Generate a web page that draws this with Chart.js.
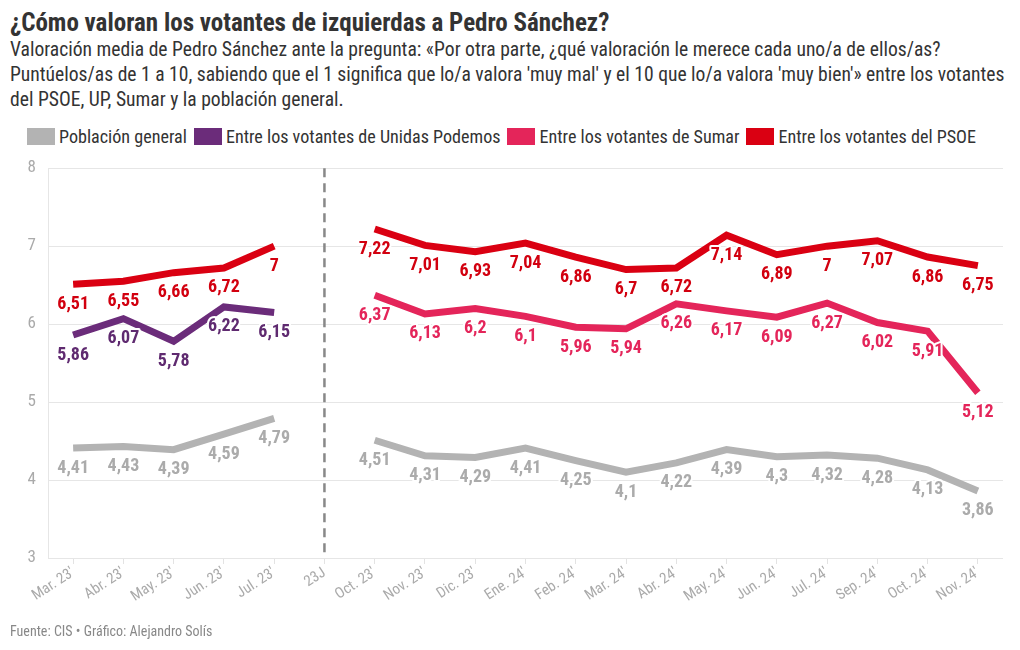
<!DOCTYPE html>
<html>
<head>
<meta charset="utf-8">
<script src="https://cdn.jsdelivr.net/npm/chart.js@4.4.1/dist/chart.umd.min.js"></script>
<style>
  body { margin: 0; background: #fff; font-family: "Roboto", sans-serif; }
  #wrap { position: relative; width: 1020px; height: 650px; overflow: hidden; font-stretch: condensed; }
  h1 { position: absolute; left: 10px; top: 8px; margin: 0; font-size: 25px; font-weight: bold; color: #333; }
  #sub { position: absolute; left: 10px; top: 37px; width: 1008px; font-size: 19.6px; line-height: 25px; color: #333; }
  #legend { position: absolute; left: 27px; top: 126px; display: flex; font-size: 18.1px; color: #333; }
  #legend span.item { display: flex; align-items: center; margin-right: 7px; }
  #legend span.box { width: 28px; height: 17px; margin-right: 4px; display: inline-block; }
  #foot { position: absolute; left: 10px; top: 623px; font-size: 14px; color: #888; }
  #holder { position: absolute; left: 0; top: 146px; width: 1020px; height: 504px; }
</style>
</head>
<body>
<div id="wrap">
  <h1>¿Cómo valoran los votantes de izquierdas a Pedro Sánchez?</h1>
  <div id="sub">Valoración media de Pedro Sánchez ante la pregunta: «Por otra parte, ¿qué valoración le merece cada uno/a de ellos/as? Puntúelos/as de 1 a 10, sabiendo que el 1 significa que lo/a valora 'muy mal' y el 10 que lo/a valora 'muy bien'» entre los votantes del PSOE, UP, Sumar y la población general.</div>
  <div id="legend"></div>
  <div id="holder"><canvas id="chart"></canvas></div>
  <div id="foot">Fuente: CIS • Gráfico: Alejandro Solís</div>
</div>
<script>
// categorías (23J = elecciones, sin datos)
const labels = ["Mar. 23'", "Abr. 23'", "May. 23'", "Jun. 23'", "Jul. 23'", "23J",
  "Oct. 23'", "Nov. 23'", "Dic. 23'", "Ene. 24'", "Feb. 24'", "Mar. 24'", "Abr. 24'",
  "May. 24'", "Jun. 24'", "Jul. 24'", "Sep. 24'", "Oct. 24'", "Nov. 24'"];

const poblacion = [4.41, 4.43, 4.39, 4.59, 4.79, null,
  4.51, 4.31, 4.29, 4.41, 4.25, 4.1, 4.22, 4.39, 4.3, 4.32, 4.28, 4.13, 3.86];
const podemos = [5.86, 6.07, 5.78, 6.22, 6.15, null,
  null, null, null, null, null, null, null, null, null, null, null, null, null];
const sumar = [null, null, null, null, null, null,
  6.37, 6.13, 6.2, 6.1, 5.96, 5.94, 6.26, 6.17, 6.09, 6.27, 6.02, 5.91, 5.12];
const psoe = [6.51, 6.55, 6.66, 6.72, 7, null,
  7.22, 7.01, 6.93, 7.04, 6.86, 6.7, 6.72, 7.14, 6.89, 7, 7.07, 6.86, 6.75];

const yTicks = [3, 4, 5, 6, 7, 8];

const series = [
  { name: 'Población general', data: poblacion, color: '#b3b3b3', text: '#ababab' },
  { name: 'Entre los votantes de Unidas Podemos', data: podemos, color: '#6b2c7a', text: '#5f2a70' },
  { name: 'Entre los votantes de Sumar', data: sumar, color: '#e4255a', text: '#e4255a' },
  { name: 'Entre los votantes del PSOE', data: psoe, color: '#da0012', text: '#d2000f' }
];

const FONT = 'Roboto, sans-serif';

// leyenda
const legendEl = document.getElementById('legend');
series.forEach(s => {
  const it = document.createElement('span');
  it.className = 'item';
  it.innerHTML = '<span class="box" style="background:' + s.color + '"></span>' + s.name;
  legendEl.appendChild(it);
});

// línea discontinua en 23J
const marcaElecciones = {
  id: 'marcaElecciones',
  beforeDatasetsDraw(chart) {
    const x = chart.scales.x.getPixelForValue(5);
    const area = chart.chartArea;
    const ctx = chart.ctx;
    ctx.save();
    ctx.strokeStyle = '#888';
    ctx.lineWidth = 2.5;
    ctx.setLineDash([9, 6]);
    ctx.beginPath();
    ctx.moveTo(x, area.top);
    ctx.lineTo(x, area.bottom);
    ctx.stroke();
    ctx.restore();
  }
};

// etiquetas de valor bajo cada punto
const etiquetas = {
  id: 'etiquetas',
  afterDatasetsDraw(chart) {
    const ctx = chart.ctx;
    ctx.save();
    ctx.font = 'bold 18px ' + FONT;
    ctx.fontStretch = 'condensed';
    ctx.textAlign = 'center';
    ctx.textBaseline = 'middle';
    ctx.lineJoin = 'round';
    chart.data.datasets.forEach((ds, i) => {
      const meta = chart.getDatasetMeta(i);
      meta.data.forEach((pt, j) => {
        const v = ds.data[j];
        if (v === null) return;
        const txt = String(v).replace('.', ',');
        ctx.strokeStyle = '#fff';
        ctx.lineWidth = 4;
        ctx.strokeText(txt, pt.x, pt.y + 20);
        ctx.fillStyle = series[i].text;
        ctx.fillText(txt, pt.x, pt.y + 20);
      });
    });
    ctx.restore();
  }
};

new Chart(document.getElementById('chart'), {
  type: 'line',
  data: {
    labels: labels,
    datasets: series.map(s => ({
      label: s.name,
      data: s.data,
      borderColor: s.color,
      backgroundColor: s.color,
      borderWidth: 7,
      pointRadius: 0,
      spanGaps: false,
      tension: 0
    }))
  },
  options: {
    responsive: true,
    maintainAspectRatio: false,
    animation: false,
    layout: { padding: { left: 0, right: 17, top: 9, bottom: 0 } },
    plugins: { legend: { display: false }, tooltip: { enabled: false } },
    scales: {
      x: {
        offset: true,
        afterFit(scale) { scale.height = 92; },
        grid: { drawOnChartArea: false, drawTicks: true, tickLength: 6, color: '#e3e3e3' },
        border: { display: false },
        ticks: { color: '#aaa', font: { family: FONT, size: 15, weight: 'condensed' }, minRotation: 33, maxRotation: 33, padding: 0, autoSkip: false }
      },
      y: {
        min: 3, max: 8,
        afterFit(scale) { scale.width = 48; },
        afterBuildTicks(scale) { scale.ticks = yTicks.map(v => ({ value: v })); },
        grid: { color: '#e6e6e6', drawTicks: false },
        border: { display: true, color: '#e6e6e6' },
        ticks: { color: '#aaa', font: { family: FONT, size: 17, weight: 'condensed' }, padding: 12 }
      }
    }
  },
  plugins: [marcaElecciones, etiquetas]
});
</script>
</body>
</html>
